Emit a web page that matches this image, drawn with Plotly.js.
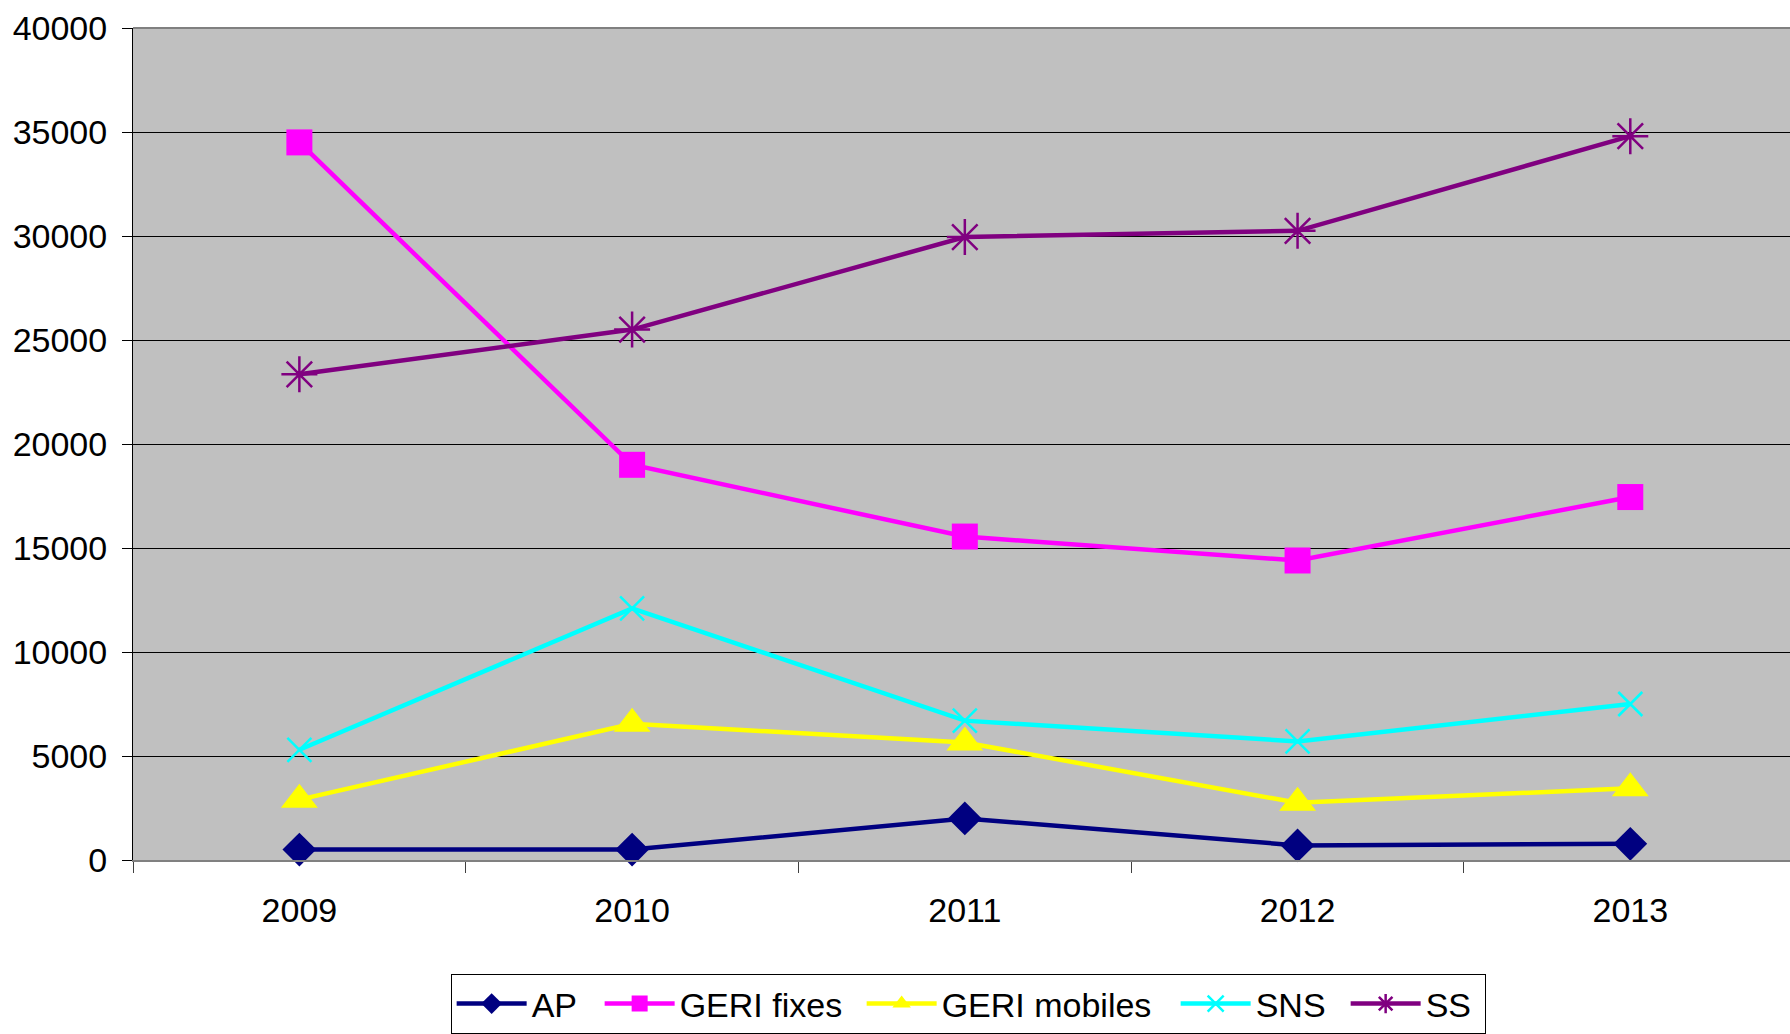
<!DOCTYPE html>
<html>
<head>
<meta charset="utf-8">
<script src="https://cdn.plot.ly/plotly-3.0.1.min.js"></script>
<style>html,body{margin:0;padding:0;background:#fff;}#chart{width:1790px;height:1034px;}</style>
</head>
<body>
<div id="chart"></div>
<script>
const years = ["2009", "2010", "2011", "2012", "2013"];
const seriesNames = ["AP", "GERI fixes", "GERI mobiles", "SNS", "SS"];
const apValues = [500, 500, 2000, 700, 780];
const geriFixesValues = [34500, 19000, 15550, 14400, 17450];
const geriMobilesValues = [2900, 6550, 5650, 2750, 3450];
const snsValues = [5300, 12100, 6700, 5700, 7500];
const ssValues = [23350, 25500, 29950, 30250, 34800];
const yTicks = [0, 5000, 10000, 15000, 20000, 25000, 30000, 35000, 40000];

const styles = [
  {color: "#000080", symbol: "diamond", size: 26, lw: 0, lgw: 63},
  {color: "#FF00FF", symbol: "square", size: 26, lw: 0, lgw: 177},
  {color: "#FFFF00", symbol: "triangle-up", size: 32, lw: 0, lgw: 229},
  {color: "#00FFFF", symbol: "x-thin-open", size: 24, lw: 2.5, lgw: 85},
  {color: "#800080", symbol: "asterisk-open", size: 30, lw: 2.5, lgw: 54}
];
const allValues = [apValues, geriFixesValues, geriMobilesValues, snsValues, ssValues];

const traces = allValues.map((vals, i) => ({
  type: "scatter",
  mode: "lines+markers",
  name: seriesNames[i],
  x: years,
  y: vals,
  line: {color: styles[i].color, width: 4.5},
  marker: {color: styles[i].color, symbol: styles[i].symbol, size: styles[i].size,
           line: {color: styles[i].color, width: styles[i].lw}},
  legendwidth: styles[i].lgw,
  cliponaxis: false
}));

const layout = {
  width: 1790, height: 1034,
  margin: {l: 133, r: 0, t: 28, b: 172, pad: 0},
  paper_bgcolor: "#ffffff",
  plot_bgcolor: "#C0C0C0",
  font: {family: "Liberation Sans, Arial, sans-serif", color: "#000"},
  showlegend: true,
  legend: {
    orientation: "h", x: 0.1917, xanchor: "left", y: -0.137, yanchor: "top",
    bordercolor: "#000", borderwidth: 1, bgcolor: "#fff",
    font: {size: 34, family: "Liberation Sans, Arial, sans-serif"},
    itemwidth: 70, tracegroupgap: 0
  },
  xaxis: {
    type: "category",
    range: [-0.5, 4.48],
    tickson: "boundaries",
    ticks: "outside", ticklen: 11, tickcolor: "#404040", tickwidth: 1,
    showline: true, linecolor: "#808080", linewidth: 2,
    showgrid: false, zeroline: false,
    tickfont: {size: 34},
    ticklabelstandoff: 19,
    fixedrange: true
  },
  yaxis: {
    range: [0, 40000],
    tickvals: yTicks,
    ticktext: yTicks.map(String),
    ticks: "outside", ticklen: 10, tickcolor: "#000", tickwidth: 1,
    showline: true, linecolor: "#000", linewidth: 1,
    showgrid: true, gridcolor: "#000", gridwidth: 1,
    zeroline: false,
    tickfont: {size: 34},
    ticklabelstandoff: 8,
    fixedrange: true
  },
  shapes: [
    {type: "line", xref: "paper", yref: "paper", x0: 0, x1: 1, y0: 1, y1: 1,
     line: {color: "#808080", width: 2}}
  ]
};

Plotly.newPlot("chart", traces, layout, {displayModeBar: false, staticPlot: true});
</script>
</body>
</html>
